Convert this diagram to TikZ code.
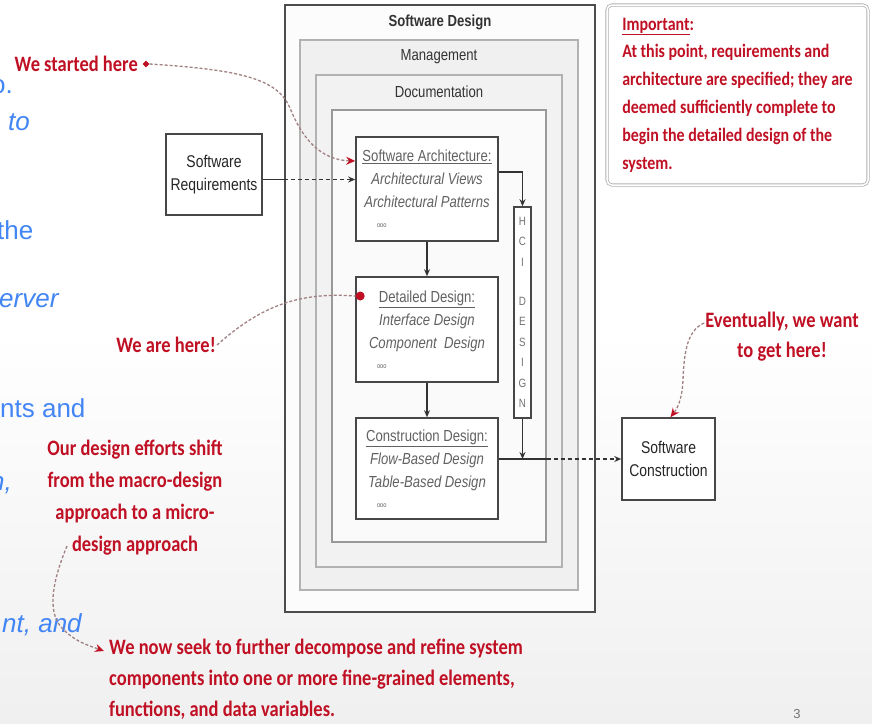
\documentclass[tikz,border=0pt]{standalone}
\usepackage{fontspec}
\usepackage{tikz}
\usetikzlibrary{calc,arrows.meta,shapes.geometric}
\setmainfont{Liberation Sans}
\newfontfamily\boxfont[FakeStretch=0.82]{Liberation Sans}
\newfontfamily\notefont[FakeStretch=0.84]{Carlito}
\definecolor{notered}{RGB}{192,16,36}
\definecolor{noteline}{RGB}{160,128,130}
\definecolor{slideblue}{RGB}{66,133,244}

\begin{document}
\begin{tikzpicture}[x=1pt,y=-1pt,
		band/.style={draw=#1, line width=1.4pt, inner sep=0pt},
		frametitle/.style={inner sep=0pt, text=black!80, font=\boxfont\fontsize{16}{19}\selectfont},
		stage/.style={draw=black!72, line width=1.6pt, fill=white, minimum width=142pt, inner sep=0pt, align=center, text=black!62, font=\boxfont\fontsize{16}{23}\selectfont},
		ext/.style={draw=black!72, line width=1.6pt, fill=white, inner sep=0pt, align=center, text=black!85, font=\boxfont\fontsize{17}{23}\selectfont},
		note/.style={inner sep=1pt, text=notered, font=\notefont\bfseries\fontsize{22}{31}\selectfont},
		slidetext/.style={inner sep=0pt, anchor=west, text=slideblue, font=\fontsize{26}{30}\selectfont},
		flow/.style={line width=1.1pt, draw=black!80, -{Stealth[length=7pt,width=6pt]}},
		link/.style={line width=1.1pt, draw=black!80, dash pattern=on 4pt off 3pt},
		callout/.style={line width=1.3pt, draw=noteline, dash pattern=on 3pt off 2pt},
		calltip/.style={-{Stealth[length=9pt,width=8pt,color=notered]}},
	]
			%%%%% START %%%%%
			
			\useasboundingbox (0,0) rectangle (872,723);
			\fill[white] (0,0) rectangle (872,723);
			\shade[top color=white, bottom color=black!6] (0,330) rectangle (872,723);
			
			% cut-off slide text on the left
			\node[slidetext] (frag1) at (-9,87) {o.};
			\node[slidetext, font=\itshape\fontsize{26}{30}\selectfont] (frag2) at (8,122) {to};
			\node[slidetext] (frag3) at (-3,230) {the};
			\node[slidetext, font=\itshape\fontsize{26}{30}\selectfont] (frag4) at (-1,301) {erver};
			\node[slidetext] (frag5) at (0,408) {nts and};
			\node[slidetext, font=\itshape\fontsize{26}{30}\selectfont] (frag6) at (-10,485) {n,};
			\node[slidetext, font=\itshape\fontsize{26}{30}\selectfont] (frag7) at (2,625) {nt, and};
			
			% nested frames
			\node[band=black!70, fill=black!1, minimum width=310pt, minimum height=607pt] (swdesign) at (440,308.5) {};
			\node[band=black!30, fill=black!6, minimum width=278pt, minimum height=550pt] (mgmt) at (439,315) {};
			\node[band=black!30, fill=black!5, minimum width=246pt, minimum height=492pt] (docs) at (439,321) {};
			\node[band=black!40, fill=black!2, minimum width=214pt, minimum height=432pt] (core) at (439,326) {};
			\node[frametitle, font=\boxfont\bfseries\fontsize{16}{18}\selectfont] (sdtitle) at (440,22) {Software Design};
			\node[frametitle] (mgmttitle) at (439,57) {Management};
			\node[frametitle] (docstitle) at (439,92) {Documentation};
			
			% design stages
			\node[stage, minimum height=104pt] (arch) at (427,189) {\underline{Software Architecture:}\\ \textit{Architectural Views}\\ \textit{Architectural Patterns}\\[-3pt] \makebox[100pt][l]{\fontsize{7}{9}\selectfont ooo}};
			\node[stage, minimum height=105pt] (detail) at (427,329.5) {\underline{Detailed Design:}\\ \textit{Interface Design}\\ \textit{Component\ \ Design}\\[-3pt] \makebox[100pt][l]{\fontsize{7}{9}\selectfont ooo}};
			\node[stage, minimum height=101pt] (constr) at (427,468.5) {\underline{Construction Design:}\\ \textit{Flow-Based Design}\\ \textit{Table-Based Design}\\[-3pt] \makebox[100pt][l]{\fontsize{7}{9}\selectfont ooo}};
			\node[stage, minimum width=17pt, minimum height=211pt, font=\boxfont\fontsize{12}{20.5}\selectfont, text=black!55] (hci) at (522.5,312.5) {H\\C\\I\\[18.5pt]D\\E\\S\\I\\G\\N};
			
			\node[ext, minimum width=96pt, minimum height=81pt] (req) at (214,174.5) {Software\\Requirements};
			\node[ext, minimum width=93pt, minimum height=82pt] (swcons) at (668.5,459) {Software\\Construction};
			
			\draw[flow] ([yshift=17pt]arch.east) -| (hci.north);
			\draw[flow] (arch.south) -- (detail.north);
			\draw[flow] (detail.south) -- (constr.north);
			\coordinate (handoff) at (hci.south |- swcons.west);
			\draw[flow] (hci.south) -- (handoff);
			\draw[line width=1.1pt, draw=black!80] (constr.east |- swcons.west) -- (core.east |- swcons.west);
			\draw[link, -{Stealth[length=7pt,width=6pt]}] (core.east |- swcons.west) -- (swcons.west);
			
			\coordinate (reqout) at ([yshift=-5pt]req.east);
			\draw[line width=1.1pt, draw=black!80] (reqout) -- (reqout -| swdesign.west);
			\draw[link, -{Stealth[length=7pt,width=6pt]}] (reqout -| swdesign.west) -- (reqout -| arch.west);
			
			% important box
			\node[draw=black!30, double=white, double distance=1.5pt, line width=0.8pt, rounded corners=5pt, fill=white, minimum width=261pt, minimum height=180pt, align=left, note, font=\notefont\bfseries\fontsize{19}{27.8}\selectfont] (important) at (737.5,95) {\underline{Important}:\\At this point, requirements and\\architecture are specified; they are\\deemed sufficiently complete to\\begin the detailed design of the\\system.};
			
			% callouts
			\node[note, anchor=east] (started) at (139,64) {We started here};
			\node[diamond, fill=notered, inner sep=0pt, minimum size=7pt] (startmark) at (146,64) {};
			\draw[callout, calltip] (startmark.east) .. controls (245,70) and (278,80) .. (290,108) .. controls (302,138) and (320,160) .. ([yshift=28pt]arch.west);
			
			\node[note, anchor=east] (here) at (217,345) {We are here!};
			\node[circle, fill=notered, inner sep=0pt, minimum size=9pt] (heremark) at ([xshift=5pt,yshift=33.5pt]detail.west) {};
			\draw[callout] (here.east) .. controls (262,305) and (300,292) .. (heremark.west);
			
			\node[note, align=center, font=\notefont\bfseries\fontsize{22}{30}\selectfont] (eventual) at (782,337) {Eventually, we want\\to get here!};
			\draw[callout, calltip] ([yshift=14pt]eventual.west) .. controls (688,330) and (684,350) .. (683,380) .. controls (682,402) and (676,410) .. ([xshift=2pt]swcons.north);
			
			\node[note, align=center, font=\notefont\bfseries\fontsize{22}{32}\selectfont] (shift) at (135,498) {Our design efforts shift\\from the macro-design\\approach to a micro-\\design approach};
			\node[note, anchor=west, align=left] (seek) at (108,679) {We now seek to further decompose and refine system\\components into one or more fine-grained elements,\\functions, and data variables.};
			\coordinate (shifttail) at (67,546);
			\draw[callout, calltip] (shifttail) .. controls (55,575) and (45,610) .. (62,628) .. controls (75,642) and (90,646) .. ([xshift=-4pt,yshift=28pt]seek.west);
			
			\node[inner sep=0pt, text=black!55, font=\fontsize{13}{15}\selectfont] (pagenum) at (797,714) {3};
			
			%%%%% END %%%%%
\end{tikzpicture}
\end{document}
